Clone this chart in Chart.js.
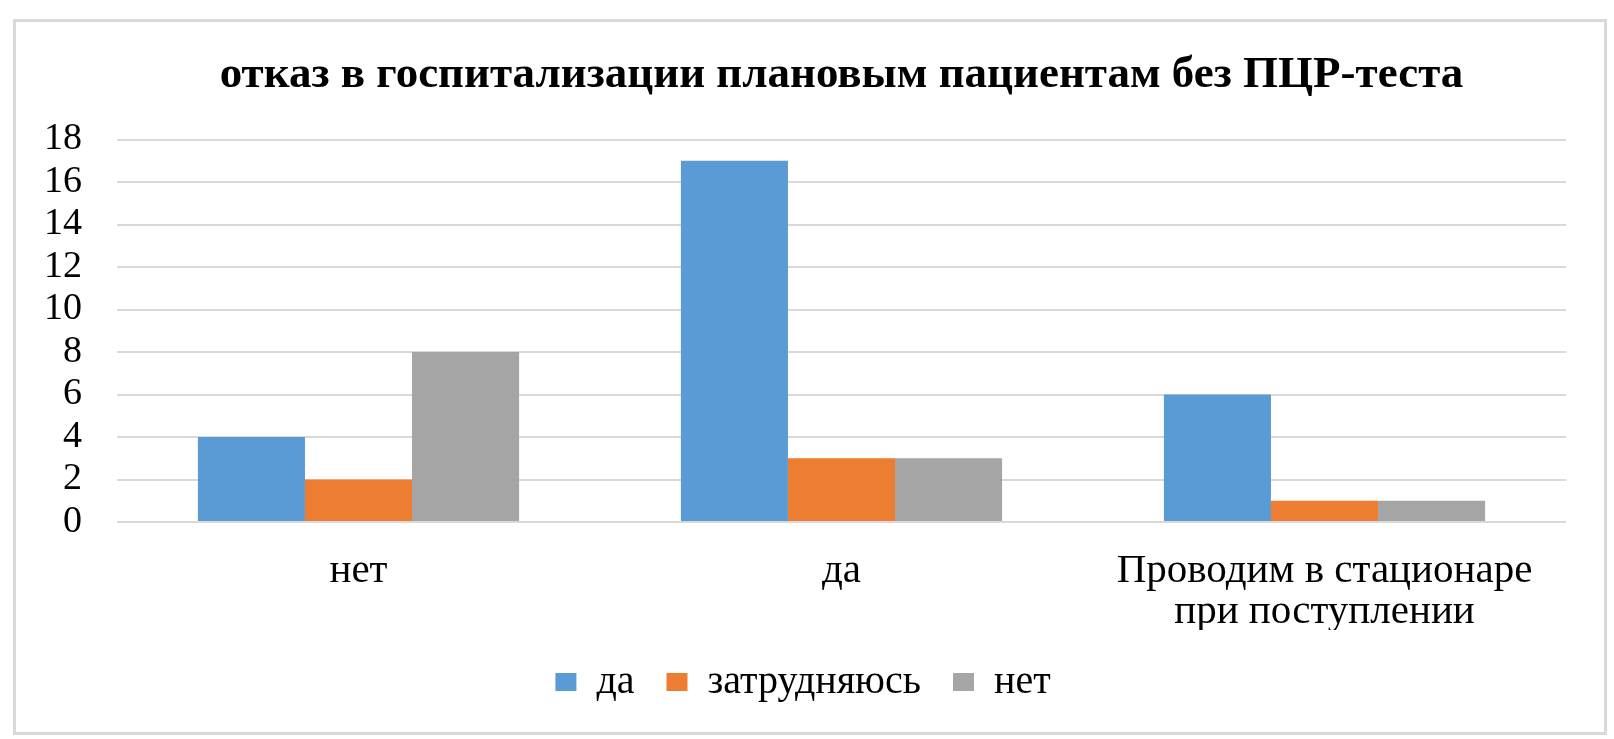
<!DOCTYPE html>
<html lang="ru">
<head>
<meta charset="utf-8">
<title>отказ в госпитализации плановым пациентам без ПЦР-теста</title>
<script src="https://cdn.jsdelivr.net/npm/chart.js@4.4.1/dist/chart.umd.min.js"></script>
<style>
  html, body { margin: 0; padding: 0; background: #fff; }
  #wrap { position: relative; width: 1614px; height: 739px; }
  #frame {
    position: absolute; left: 13px; top: 19px; width: 1594px; height: 716px;
    box-sizing: border-box; border: 3px solid #d9d9d9; pointer-events: none;
  }
  canvas { position: absolute; left: 0; top: 0; }
</style>
</head>
<body>
<div id="wrap">
  <canvas id="chart" width="1614" height="739"></canvas>
  <div id="frame"></div>
</div>
<script>
const categories = ["нет", "да", ["Проводим в стационаре", "при поступлении"]];
const seriesNames = ["да", "затрудняюсь", "нет"];
const valuesDa = [4, 17, 6];
const valuesHard = [2, 3, 1];
const valuesNet = [8, 3, 1];
const yTicks = [0, 2, 4, 6, 8, 10, 12, 14, 16, 18];

const SERIF = "'Liberation Serif', 'Times New Roman', serif";
const colors = ["#5B9BD5", "#ED7D31", "#A5A5A5"];

function el(id) {
  return document.getElementById(id);
}

function makeDataset(label, data, color) {
  return {
    label,
    data,
    backgroundColor: color,
    borderWidth: 0,
    barPercentage: 1,
    categoryPercentage: 0.665,
  };
}

Chart.defaults.font.family = SERIF;
Chart.defaults.color = "#000";

new Chart(el("chart"), {
  type: "bar",
  data: {
    labels: categories,
    datasets: [
      makeDataset(seriesNames[0], valuesDa, colors[0]),
      makeDataset(seriesNames[1], valuesHard, colors[1]),
      makeDataset(seriesNames[2], valuesNet, colors[2]),
    ],
  },
  options: {
    responsive: false,
    animation: false,
    devicePixelRatio: 1,
    layout: { padding: { left: 40, right: 48, top: 51, bottom: 27 } },
    plugins: {
      title: {
        display: true,
        fullSize: false,
        text: "отказ в госпитализации плановым пациентам без ПЦР-теста",
        font: { size: 45, weight: "bold", family: SERIF, lineHeight: 1.1 },
        color: "#000",
        padding: { top: 0, bottom: 39 },
      },
      legend: {
        position: "bottom",
        labels: {
          boxWidth: 21,
          boxHeight: 18,
          padding: 32,
          color: "#000",
          font: { size: 40, family: SERIF },
        },
      },
      tooltip: { enabled: false },
    },
    scales: {
      x: {
        grid: { display: false },
        border: { display: false },
        ticks: { font: { size: 41, family: SERIF, lineHeight: 1 }, padding: 21, color: "#000", maxRotation: 0 },
        afterFit: (s) => { s.height = 108; },
      },
      y: {
        min: yTicks[0],
        max: yTicks[yTicks.length - 1],
        grid: { color: "#d9d9d9", lineWidth: 2, drawTicks: false },
        border: { display: false },
        ticks: {
          stepSize: yTicks[1] - yTicks[0],
          autoSkip: false,
          font: { size: 38, family: SERIF, lineHeight: 1 },
          padding: 35,
          color: "#000",
        },
        afterFit: (s) => { s.width = 77; },
      },
    },
  },
});
</script>
</body>
</html>
